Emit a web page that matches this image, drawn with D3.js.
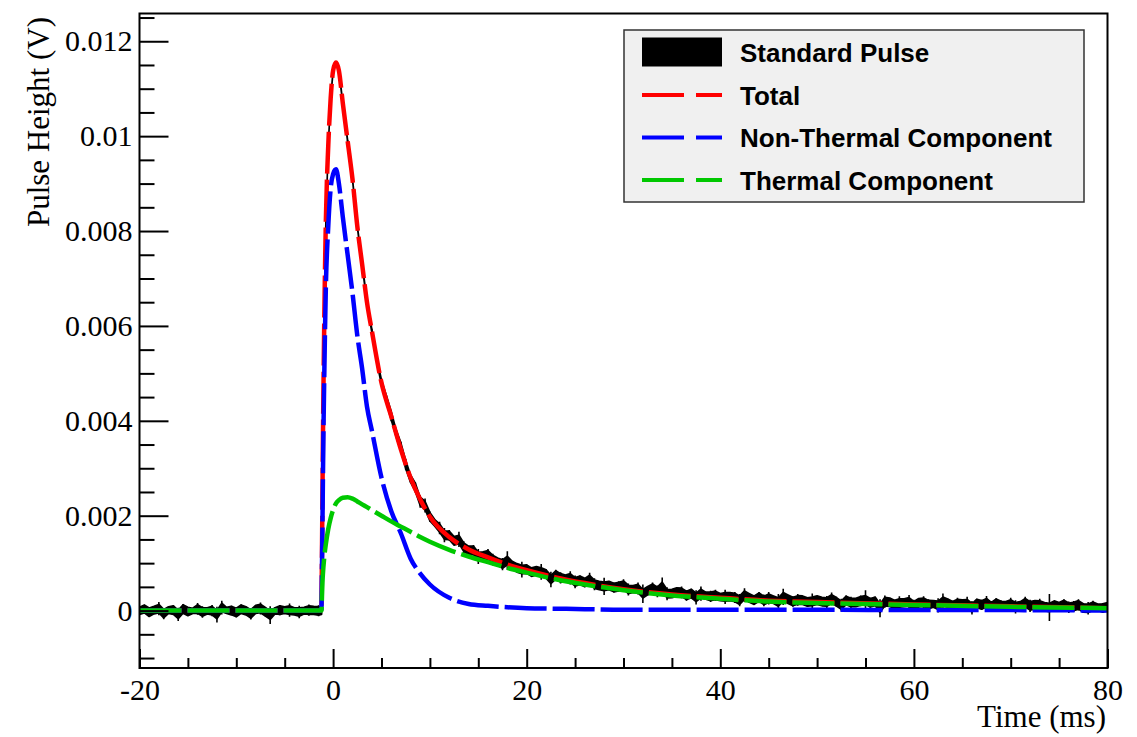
<!DOCTYPE html>
<html><head><meta charset="utf-8">
<script src="https://cdn.jsdelivr.net/npm/d3@7"></script>
<style>body{margin:0;background:#fff;} svg{display:block;}</style>
</head><body><svg id="chart" width="1137" height="737"></svg>
<script>
// ---------------- data ----------------
const fitTime = [-20, -1.2, -1.15, -1.1, -1.05, -1.0, -0.9, -0.75, -0.5, -0.25, 0, 0.3, 0.6, 1, 1.5, 2, 2.5, 3, 3.5, 4, 5, 6, 7, 8, 9, 10, 12, 14, 16, 18, 20, 23, 26, 30, 35, 40, 45, 50, 60, 70, 80];
const totalFit = [0, 0, 0.0012, 0.0024, 0.0036, 0.0046, 0.0063, 0.0082, 0.0098, 0.0108, 0.01138, 0.01155, 0.01138, 0.0107, 0.0099, 0.0091, 0.0081, 0.0073, 0.0065, 0.0059, 0.0048, 0.0041, 0.0034, 0.0028, 0.00234, 0.00198, 0.00155, 0.00129, 0.00112, 0.00097, 0.00085, 0.0007, 0.00058, 0.00045, 0.00034, 0.00027, 0.00021, 0.00018, 0.00013, 0.00009, 0.00005];
const nonThermal = [0, 0, 0.0009, 0.0018, 0.0028, 0.0037, 0.0051, 0.0068, 0.0081, 0.0089, 0.0092, 0.0093, 0.009, 0.0083, 0.0075, 0.0067, 0.0058, 0.0051, 0.0043, 0.0038, 0.0028, 0.0021, 0.00163, 0.0011, 0.00078, 0.00055, 0.00027, 0.00014, 0.0001, 0.00007, 0.00005, 0.00004, 0.00003, 0.00002, 0.00002, 0.00002, 0.00002, 0.00002, 0.00001, 0.00001, 0];
const thermal = [0, 0, 0.0003, 0.0006, 0.00078, 0.00092, 0.00115, 0.0014, 0.00172, 0.00195, 0.00212, 0.00226, 0.00233, 0.00238, 0.00239, 0.00236, 0.0023, 0.00224, 0.00218, 0.00212, 0.002, 0.00188, 0.00177, 0.00166, 0.00155, 0.00145, 0.00128, 0.00114, 0.00102, 0.0009, 0.0008, 0.00066, 0.00055, 0.00043, 0.00032, 0.00025, 0.00019, 0.00016, 0.00012, 0.00008, 0.00005];

// measured standard pulse (noisy band: lower / upper envelope)
const pulseTimeBase = d3.range(-20, -1.25, 0.5);
const pulseHighBase = [0.00007, 0.00012, 0.00006, 0.00009, 0.00018, 0.00005, 0.00008, 0.00011, 0.00006, 0.00014, 0.00007, 0.00005, 0.00016, 0.00009, 0.00006, 0.00012, 0.00008, 0.00021, 0.00007, 0.00010, 0.00006, 0.00013, 0.00008, 0.00005, 0.00011, 0.00017, 0.00007, 0.00009, 0.00006, 0.00012, 0.00008, 0.00015, 0.00006, 0.00010, 0.00007, 0.00013, 0.00009, 0.00011];
const pulseLowBase = [-0.00008, -0.00005, -0.00013, -0.00007, -0.00010, -0.00018, -0.00006, -0.00009, -0.00022, -0.00007, -0.00011, -0.00006, -0.00009, -0.00015, -0.00007, -0.00012, -0.00025, -0.00008, -0.00006, -0.00010, -0.00014, -0.00007, -0.00009, -0.00019, -0.00006, -0.00008, -0.00012, -0.00028, -0.00007, -0.00010, -0.00006, -0.00013, -0.00009, -0.00016, -0.00007, -0.00011, -0.00008, -0.00012];
const pulseTimeRise = [-1.2, -1.15, -1.1, -1.05, -1.0, -0.9, -0.75, -0.5, -0.25, 0, 0.3, 0.6, 1, 1.5, 2, 2.5, 3, 3.5, 4, 4.5, 5];
const pulseLowRise = [-0.00008, 0.00118, 0.00238, 0.00358, 0.00458, 0.00628, 0.00818, 0.00978, 0.01078, 0.01136, 0.01153, 0.01136, 0.01068, 0.00988, 0.00908, 0.00808, 0.00727, 0.00647, 0.00586, 0.00526, 0.00475];
const pulseHighRise = [0.00006, 0.00122, 0.00242, 0.00362, 0.00462, 0.00632, 0.00822, 0.00982, 0.01082, 0.01140, 0.01157, 0.01140, 0.01072, 0.00992, 0.00912, 0.00812, 0.00733, 0.00654, 0.00594, 0.00535, 0.00486];
const pulseTimeTail = d3.range(5.5, 80.25, 0.5);
const pulseHighTail = [
0.00454, 0.00423, 0.00382, 0.00356, 0.00320, 0.00286, 0.00270, 0.00243, 0.00236, 0.00209,
0.00192, 0.00187, 0.00174, 0.00170, 0.00156, 0.00166, 0.00146, 0.00136, 0.00138, 0.00130,
0.00124, 0.00130, 0.00120, 0.00111, 0.00111, 0.00125, 0.00104, 0.00099, 0.00103, 0.00097,
0.00090, 0.00094, 0.00098, 0.00087, 0.00082, 0.00086, 0.00081, 0.00075, 0.00083, 0.00074,
0.00074, 0.00068, 0.00080, 0.00068, 0.00062, 0.00069, 0.00062, 0.00059, 0.00062, 0.00066,
0.00057, 0.00053, 0.00059, 0.00055, 0.00051, 0.00059, 0.00053, 0.00070, 0.00049, 0.00045,
0.00048, 0.00051, 0.00043, 0.00046, 0.00043, 0.00051, 0.00039, 0.00042, 0.00044, 0.00036,
0.00044, 0.00038, 0.00039, 0.00035, 0.00047, 0.00037, 0.00032, 0.00039, 0.00034, 0.00039,
0.00031, 0.00035, 0.00046, 0.00033, 0.00030, 0.00035, 0.00031, 0.00028, 0.00036, 0.00031,
0.00028, 0.00031, 0.00038, 0.00029, 0.00025, 0.00032, 0.00029, 0.00026, 0.00032, 0.00043,
0.00027, 0.00029, 0.00024, 0.00032, 0.00027, 0.00023, 0.00030, 0.00025, 0.00033, 0.00023,
0.00026, 0.00030, 0.00024, 0.00021, 0.00026, 0.00036, 0.00025, 0.00021, 0.00027, 0.00023,
0.00029, 0.00020, 0.00025, 0.00023, 0.00031, 0.00020, 0.00026, 0.00022, 0.00019, 0.00027,
0.00022, 0.00019, 0.00029, 0.00023, 0.00021, 0.00025, 0.00017, 0.00035, 0.00021, 0.00017,
0.00024, 0.00019, 0.00020, 0.00024, 0.00016, 0.00018, 0.00021, 0.00014, 0.00016, 0.00018];
const pulseLowTail = [
0.00438, 0.00399, 0.00367, 0.00334, 0.00296, 0.00270, 0.00249, 0.00217, 0.00207, 0.00187,
0.00178, 0.00161, 0.00144, 0.00147, 0.00138, 0.00134, 0.00121, 0.00118, 0.00116, 0.00098,
0.00106, 0.00105, 0.00095, 0.00096, 0.00085, 0.00086, 0.00087, 0.00081, 0.00070, 0.00078,
0.00072, 0.00074, 0.00065, 0.00067, 0.00049, 0.00064, 0.00057, 0.00061, 0.00055, 0.00047,
0.00054, 0.00050, 0.00051, 0.00043, 0.00044, 0.00033, 0.00044, 0.00038, 0.00039, 0.00041,
0.00032, 0.00038, 0.00034, 0.00016, 0.00033, 0.00035, 0.00028, 0.00032, 0.00022, 0.00027,
0.00030, 0.00026, 0.00021, 0.00026, 0.00013, 0.00021, 0.00024, 0.00018, 0.00020, 0.00021,
0.00014, 0.00021, 0.00016, 0.00009, 0.00018, 0.00016, 0.00012, 0.00018, 0.00009, 0.00013,
0.00015, 0.00001, 0.00012, 0.00015, 0.00008, 0.00010, 0.00013, 0.00008, 0.00003, 0.00013,
0.00010, 0.00005, 0.00011, 0.00008, -0.00002, 0.00011, 0.00005, 0.00008, 0.00009, 0.00002,
0.00006, 0.00010, -0.00014, 0.00006, 0.00008, 0.00003, 0.00002, 0.00008, 0.00004, -0.00002,
0.00007, 0.00005, 0.00001, 0.00007, -0.00004, 0.00003, 0.00006, -0.00001, 0.00003, 0.00006,
0.00000, -0.00008, 0.00005, 0.00001, 0.00002, -0.00003, 0.00005, -0.00001, 0.00004, 0.00001,
-0.00006, 0.00001, 0.00004, -0.00003, 0.00003, -0.00002, -0.00001, -0.00022, 0.00002, -0.00001,
0.00002, -0.00005, -0.00003, 0.00000, -0.00005, -0.00008, -0.00003, 0.00000, -0.00005, -0.00002];

const xMajorTicks = [-20, 0, 20, 40, 60, 80];
const xTickLabels = ["-20", "0", "20", "40", "60", "80"];
const xMinorTicks = [-15, -10, -5, 5, 10, 15, 25, 30, 35, 45, 50, 55, 65, 70, 75];
const yMajorTicks = [0, 0.002, 0.004, 0.006, 0.008, 0.01, 0.012];
const yTickLabels = ["0", "0.002", "0.004", "0.006", "0.008", "0.01", "0.012"];
const yMinorTicks = [-0.001, -0.0005, 0.0005, 0.001, 0.0015, 0.0025, 0.003, 0.0035, 0.0045, 0.005, 0.0055, 0.0065, 0.007, 0.0075, 0.0085, 0.009, 0.0095, 0.0105, 0.011, 0.0115, 0.0125];
const legendLabels = ["Standard Pulse", "Total", "Non-Thermal Component", "Thermal Component"];
const legendColors = ["#000000", "#ff0000", "#0000ff", "#00c800"];
const xTitle = "Time (ms)";
const yTitle = "Pulse Height (V)";

// ---------------- drawing ----------------
const svg = d3.select("#chart");
const L = 139.5, R = 1107.5, T = 13.5, B = 668;
const x = d3.scaleLinear().domain([-20, 80]).range([L, R]);
const y = d3.scaleLinear().domain([-0.00121, 0.012585]).range([B, T]);

svg.append("rect").attr("width", 1137).attr("height", 737).attr("fill", "#fff");
svg.append("defs").append("clipPath").attr("id", "clip")
  .append("rect").attr("x", L).attr("y", T).attr("width", R - L).attr("height", B - T);
const plot = svg.append("g").attr("clip-path", "url(#clip)");

// measured pulse: solid core + noise spikes
const pulsePts = [];
pulseTimeBase.forEach((t, i) => pulsePts.push({t, lo: pulseLowBase[i], hi: pulseHighBase[i]}));
pulseTimeRise.forEach((t, i) => pulsePts.push({t, lo: pulseLowRise[i], hi: pulseHighRise[i]}));
pulseTimeTail.forEach((t, i) => pulsePts.push({t, lo: pulseLowTail[i], hi: pulseHighTail[i]}));
const coreHalf = 0.00009;
const mid = d => (d.lo + d.hi) / 2;
const half = d => Math.min((d.hi - d.lo) / 2, coreHalf);
plot.append("path").datum(pulsePts)
  .attr("d", d3.area().x(d => x(d.t)).y0(d => y(mid(d) - half(d))).y1(d => y(mid(d) + half(d))))
  .attr("fill", "#000").attr("stroke", "#000").attr("stroke-width", 1.6).attr("stroke-linejoin", "round");
plot.append("path")
  .attr("d", pulsePts.map(d => `M${x(d.t)},${y(d.lo)}V${y(d.hi)}`).join(""))
  .attr("stroke", "#000").attr("stroke-width", 1.6).attr("fill", "none");

// fit curves
const line = d3.line().x(d => x(d.t)).y(d => y(d.v)).curve(d3.curveMonotoneX);
const DASH = 48;
const pts = vals => fitTime.map((t, i) => ({t, v: vals[i]}));
function lengthAtX(node, xt) {
  let a = 0, b = node.getTotalLength();
  for (let k = 0; k < 40; k++) { const m = (a + b) / 2; if (node.getPointAtLength(m).x < xt) a = m; else b = m; }
  return (a + b) / 2;
}
const greenTmp = svg.append("path").attr("d", line(pts(thermal))).attr("fill", "none");
const gLenAt = lengthAtX(greenTmp.node(), x(40));
greenTmp.remove();

[{vals: totalFit, color: legendColors[1]}, {vals: nonThermal, color: legendColors[2]}].forEach(s => {
  const p = pts(s.vals);
  plot.append("path").datum(p.slice(0, 2)).attr("d", line).attr("fill", "none")
    .attr("stroke", s.color).attr("stroke-width", 4.5).attr("stroke-dasharray", "42,6");
  const seg = plot.append("path").datum(p.slice(1)).attr("d", line).attr("fill", "none")
    .attr("stroke", s.color).attr("stroke-width", 4.5).attr("stroke-dasharray", "42,6");
  const sLenAt = lengthAtX(seg.node(), x(40));
  const off = (((gLenAt - sLenAt) % DASH) + DASH) % DASH;
  seg.attr("stroke-dashoffset", off);
});
plot.append("path").datum(pts(thermal)).attr("d", line).attr("fill", "none")
  .attr("stroke", legendColors[3]).attr("stroke-width", 4.5).attr("stroke-dasharray", "42,6");

// axes
const fontSerif = "'Liberation Serif', 'Times New Roman', serif";
const yAxis = d3.axisLeft(y).tickValues(yMajorTicks).tickSize(-29).tickPadding(7)
  .tickFormat((d, i) => yTickLabels[i]);
const yAxisMinor = d3.axisLeft(y).tickValues(yMinorTicks).tickSize(-15).tickFormat("");
const xAxis = d3.axisBottom(x).tickValues(xMajorTicks).tickSize(-19).tickPadding(11)
  .tickFormat((d, i) => xTickLabels[i]);
const xAxisMinor = d3.axisBottom(x).tickValues(xMinorTicks).tickSize(-10).tickFormat("");
function styleAxis(g) {
  g.select(".domain").remove();
  g.selectAll("line").attr("stroke", "#000").attr("stroke-width", 2);
  g.selectAll("text").attr("font-family", fontSerif).attr("font-size", 30).attr("fill", "#000");
}
svg.append("g").attr("transform", `translate(${L},0)`).call(yAxisMinor).call(styleAxis);
svg.append("g").attr("transform", `translate(${L},0)`).call(yAxis).call(styleAxis);
svg.append("g").attr("transform", `translate(0,${B})`).call(xAxisMinor).call(styleAxis);
svg.append("g").attr("transform", `translate(0,${B})`).call(xAxis).call(styleAxis);

// frame
svg.append("rect").attr("x", L).attr("y", T).attr("width", R - L).attr("height", B - T)
  .attr("fill", "none").attr("stroke", "#000").attr("stroke-width", 2);

// titles
svg.append("text").attr("x", 1106).attr("y", 727).attr("text-anchor", "end")
  .attr("font-family", fontSerif).attr("font-size", 31).text(xTitle);
svg.append("text").attr("transform", "translate(49,17) rotate(-90)").attr("text-anchor", "end")
  .attr("font-family", fontSerif).attr("font-size", 31).text(yTitle);

// legend
const lg = svg.append("g");
lg.append("rect").attr("x", 624).attr("y", 30).attr("width", 460).attr("height", 172)
  .attr("fill", "#f0f0f0").attr("stroke", "#333").attr("stroke-width", 1.5);
const rowY = [52, 95, 137.5, 180];
legendLabels.forEach((lab, i) => {
  const cy = rowY[i];
  if (i === 0) {
    lg.append("rect").attr("x", 642).attr("y", cy - 14.5).attr("width", 80).attr("height", 29).attr("fill", "#000");
  } else {
    lg.append("line").attr("x1", 642).attr("x2", 722).attr("y1", cy).attr("y2", cy)
      .attr("stroke", legendColors[i]).attr("stroke-width", 4).attr("stroke-dasharray", "42,12");
  }
  lg.append("text").attr("x", 740).attr("y", cy + 9.5)
    .attr("font-family", "'Liberation Sans', Arial, sans-serif").attr("font-weight", "bold")
    .attr("font-size", 26).attr("fill", "#000").text(lab);
});
</script>
</body></html>
